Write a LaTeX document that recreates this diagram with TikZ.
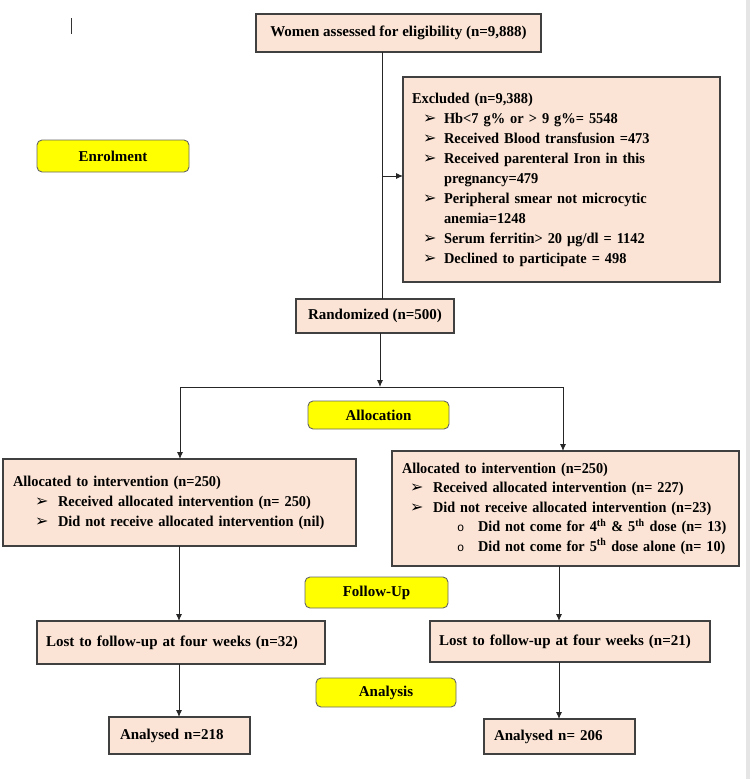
\documentclass[tikz,border=0pt]{standalone}
\usepackage{fontspec}
\setmainfont{Liberation Serif}
\newfontfamily\narrowfont[FakeStretch=0.96]{Liberation Serif}
\newfontfamily\narrowerfont[FakeStretch=0.95]{Liberation Serif}
\newfontfamily\dvs{DejaVu Sans}
\newfontfamily\lmono{Liberation Mono}
\usetikzlibrary{arrows.meta}
\definecolor{peach}{HTML}{FBE4D5}
\definecolor{bord}{HTML}{404040}
\definecolor{yel}{HTML}{FFFF00}
\hyphenpenalty=10000
\exhyphenpenalty=10000
\newcommand\arrbul{{\dvs\mdseries\fontsize{16}{16}\selectfont ➢}}
\newcommand\circbul{{\lmono\mdseries\fontsize{12}{12}\selectfont o}}
\newcommand\itm[3]{\par\hangindent=#2pt\hangafter=1\noindent\hspace*{#1pt}\makebox[\dimexpr#2pt-#1pt\relax][l]{\arrbul}#3}
\newcommand\subitm[3]{\par\hangindent=#2pt\hangafter=1\noindent\hspace*{#1pt}\makebox[\dimexpr#2pt-#1pt\relax][l]{\circbul}#3}
\begin{document}
\begin{tikzpicture}[x=1pt,y=-1pt,
  box/.style={draw=bord, line width=1.1pt, fill=peach, outer sep=0pt, inner ysep=0pt, anchor=north west,
    font=\fontsize{15}{20}\selectfont\bfseries},
  listbox/.style={box, align=left, font=\narrowfont\fontsize{15}{20}\selectfont\bfseries},
  lbl/.style={draw=black!60, line width=0.9pt, fill=yel, rounded corners=5pt, outer sep=0pt, inner sep=0pt,
    anchor=north west, font=\fontsize{15}{20}\selectfont\bfseries},
  conn/.style={draw=black!85, line width=0.9pt},
  arrow/.style={conn, -{Latex[length=7pt,width=6pt]}}]
\useasboundingbox (0,0) rectangle (750,779);
\fill[gray!20] (746,0) rectangle (750,779);
\draw[line width=1pt, black!80] (71,18) -- (71,34);

% boxes
\node[box, minimum width=285pt, minimum height=38pt] (women) at (256,14) {Women assessed for eligibility (n=9,888)};
\node[listbox, minimum height=205pt, text width=299pt, inner xsep=9pt] (excl) at (403,77) {%
\noindent Excluded (n=9,388)
\itm{11}{32}{Hb<7 g\% or > 9 g\%= 5548}
\itm{11}{32}{Received Blood transfusion =473}
\itm{11}{32}{Received parenteral Iron in this pregnancy=479}
\itm{11}{32}{Peripheral smear not microcytic anemia=1248}
\itm{11}{32}{Serum ferritin> 20 μg/dl = 1142}
\itm{11}{32}{Declined to participate = 498}};
\node[box, minimum width=158pt, minimum height=34pt] (rand) at (296,299) {Randomized (n=500)};

\node[lbl, minimum width=152pt, minimum height=32pt] (enrol) at (37,140) {Enrolment};
\node[lbl, minimum width=141pt, minimum height=28pt] (alloc) at (308,401) {Allocation};
\node[lbl, minimum width=143pt, minimum height=31pt] (follow) at (305,577) {Follow-Up};
\node[lbl, minimum width=140pt, minimum height=29pt] (analysis) at (316,678) {Analysis};

\node[listbox, minimum height=87pt, text width=333pt, inner xsep=10pt] (allocL) at (3,459) {%
\noindent Allocated to intervention (n=250)
\itm{22}{45}{Received allocated intervention (n= 250)}
\itm{22}{45}{Did not receive allocated intervention (nil)}};
\node[listbox, minimum height=115pt, text width=327pt, inner xsep=10pt,
  font=\narrowerfont\fontsize{15}{19.5}\selectfont\bfseries] (allocR) at (392,451) {%
\noindent Allocated to intervention (n=250)
\itm{8}{31}{Received allocated intervention (n= 227)}
\itm{8}{31}{Did not receive allocated intervention (n=23)}
\subitm{55}{76}{Did not come for 4\textsuperscript{th} \& 5\textsuperscript{th} dose (n=~13)}
\subitm{55}{76}{Did not come for 5\textsuperscript{th} dose alone (n=~10)}};

\node[box, minimum height=43pt, text width=270pt, inner xsep=9pt, align=left] (lostL) at (37,621) {Lost to follow-up at four weeks (n=32)};
\node[box, minimum height=41pt, text width=262pt, inner xsep=9pt, align=left] (lostR) at (430,621) {Lost to follow-up at four weeks (n=21)};
\node[box, minimum height=37pt, text width=119pt, inner xsep=11pt, align=left] (anaL) at (109,717) {Analysed n=218};
\node[box, minimum height=35pt, text width=131pt, inner xsep=10pt, align=left] (anaR) at (484,719) {Analysed n= 206};

% connectors
\coordinate (split) at (382,176);
\draw[conn] (women.south -| split) -- (rand.north -| split);
\draw[arrow] (split) -- (split -| excl.west);
\coordinate (fork) at (380,387);
\coordinate (forkL) at (180,387);
\coordinate (forkR) at (563,387);
\draw[arrow] (rand.south -| fork) -- (fork);
\draw[conn] (forkL) -- (forkR);
\draw[arrow] (forkL) -- (forkL |- allocL.north);
\draw[arrow] (forkR) -- (forkR |- allocR.north);
\coordinate (colL) at (179,600);
\coordinate (colR) at (559,600);
\draw[arrow] (colL |- allocL.south) -- (colL |- lostL.north);
\draw[arrow] (colR |- allocR.south) -- (colR |- lostR.north);
\draw[arrow] (colL |- lostL.south) -- (colL |- anaL.north);
\draw[arrow] (colR |- lostR.south) -- (colR |- anaR.north);
\end{tikzpicture}
\end{document}
